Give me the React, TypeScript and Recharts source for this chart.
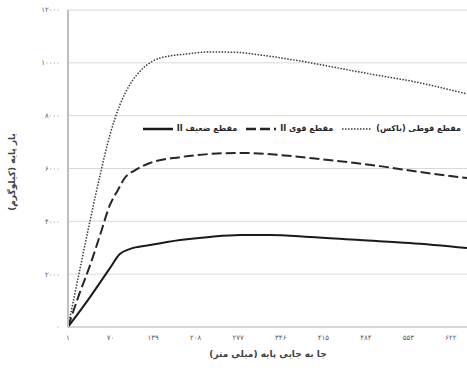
import React from 'react'
import { LineChart, Line, XAxis, YAxis, CartesianGrid } from 'recharts'

// displacement (mm) / load (kg)
const boxX = [1, 20, 37, 53, 69, 85, 101, 123, 150, 191, 231, 272, 312, 377, 474, 572, 648]
const boxY = [0, 2150, 4050, 5750, 7270, 8400, 9160, 9800, 10180, 10330, 10410, 10400, 10300, 10070, 9650, 9240, 8820]

const strongX = [1, 20, 37, 53, 69, 82, 93, 110, 134, 183, 231, 280, 345, 409, 507, 571, 648]
const strongY = [0, 1290, 2350, 3480, 4620, 5190, 5640, 5940, 6210, 6430, 6550, 6590, 6510, 6360, 6090, 5870, 5640]

const weakX = [1, 37, 69, 85, 101, 134, 183, 231, 280, 328, 393, 474, 555, 648]
const weakY = [0, 1140, 2230, 2760, 2950, 3100, 3290, 3410, 3480, 3480, 3410, 3290, 3180, 2990]

const xTicks = [1, 70, 139, 208, 277, 346, 415, 484, 553, 622]
const yTicks = [0, 2000, 4000, 6000, 8000, 10000, 12000]

const seriesNames = ['مقطع قوطی (باکس)', 'مقطع قوی II', 'مقطع ضعیف II']
const xTitle = 'جا به جایی پایه (میلی متر)'
const yTitle = 'بار پایه (کیلوگرم)'

const toRows = (xs: number[], ys: number[]) => xs.map((x, i) => ({ x, y: ys[i] }))
const boxData = toRows(boxX, boxY)
const strongData = toRows(strongX, strongY)
const weakData = toRows(weakX, weakY)

const faDigits = '۰۱۲۳۴۵۶۷۸۹'
const fa = (v: number) => String(v).replace(/\d/g, (d) => faDigits[Number(d)])
const rtl = (s: string) => '\u202B' + s + '\u202C'

const FONT = '"DejaVu Sans", sans-serif'

const styles = [
  { stroke: '#3a3a3a', dash: '1.5 1.5', width: 1.5 },
  { stroke: '#262626', dash: '10 4', width: 2 },
  { stroke: '#1a1a1a', dash: undefined, width: 2 },
]

function YTitle() {
  return (
    <text x={12} y={172} transform="rotate(-90 12 172)" textAnchor="middle" dominantBaseline="middle"
      fontSize={9} fontWeight="bold" fill="#404040" fontFamily={FONT}>
      {rtl(yTitle)}
    </text>
  )
}

function XTitle() {
  return (
    <text x={268} y={354} textAnchor="middle" dominantBaseline="middle"
      fontSize={9} fontWeight="bold" fill="#404040" fontFamily={FONT}>
      {rtl(xTitle)}
    </text>
  )
}

function LegendBox() {
  return (
    <div dir="rtl" style={{
      position: 'absolute', top: 124, right: 6, display: 'flex', alignItems: 'center',
      gap: 9, fontFamily: FONT, fontSize: 8, fontWeight: 'bold', color: '#262626', whiteSpace: 'nowrap',
    }}>
      {seriesNames.map((name, i) => (
        <div key={name} style={{ display: 'flex', alignItems: 'center', gap: 4 }}>
          <span>{name}</span>
          <svg width={30} height={6}>
            <line x1={0} y1={3} x2={30} y2={3} stroke={styles[i].stroke}
              strokeWidth={styles[i].width + (i === 0 ? 0 : 0.5)} strokeDasharray={styles[i].dash} />
          </svg>
        </div>
      ))}
    </div>
  )
}

export default function App() {
  const datasets = [boxData, strongData, weakData]
  return (
    <div style={{ position: 'absolute', left: 0, top: 0, width: 467, height: 370, background: '#fff' }}>
      <LineChart width={467} height={370} margin={{ top: 10, right: 0, left: 20, bottom: 23 }}>
        <CartesianGrid vertical={false} stroke="#d9d9d9" />
        <XAxis
          type="number"
          dataKey="x"
          domain={[1, 648]}
          ticks={xTicks}
          tickFormatter={fa}
          height={20}
          stroke="#bfbfbf"
          tickLine={false}
          tick={{ fontSize: 7, fill: '#595959', fontFamily: FONT }}
          allowDataOverflow
          label={<XTitle />}
        />
        <YAxis
          type="number"
          domain={[0, 12000]}
          ticks={yTicks}
          tickFormatter={fa}
          width={48}
          stroke="#bfbfbf"
          strokeWidth={2}
          tickLine={false}
          tick={{ fontSize: 7, fill: '#595959', fontFamily: FONT }}
          label={<YTitle />}
        />
        {datasets.map((d, i) => (
          <Line
            key={seriesNames[i]}
            data={d}
            dataKey="y"
            type="monotone"
            stroke={styles[i].stroke}
            strokeWidth={styles[i].width}
            strokeDasharray={styles[i].dash}
            dot={false}
            activeDot={false}
            isAnimationActive={false}
          />
        ))}
      </LineChart>
      <LegendBox />
    </div>
  )
}
